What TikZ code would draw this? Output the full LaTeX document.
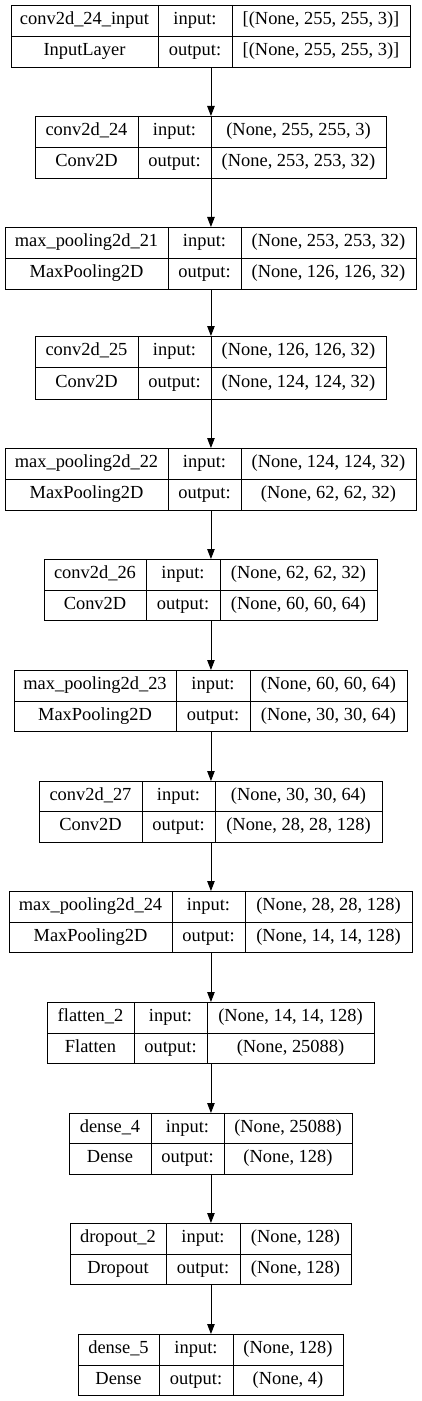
\documentclass[tikz,border=0pt]{standalone}
\usepackage{fontspec}
\setmainfont{Liberation Serif}
\usetikzlibrary{arrows.meta}
\tikzset{
  cell/.style={inner sep=0pt, font=\fontsize{18.5}{21}\selectfont},
  frame/.style={draw=black, line width=0.9bp, inner sep=0pt},
  link/.style={draw=black, line width=0.9bp, -{Triangle[length=10bp,width=7.5bp]}},
}
\newcommand\lay[8]{%
  \gdef\xA{#2}\gdef\xB{#3}\gdef\xC{#4}\gdef\xD{#5}\gdef\yT{#6}\gdef\yM{#7}\gdef\yB{#8}\gdef\lname{#1}%
  \node[frame, anchor=north west, minimum width={(#5-#2)*1bp}, minimum height={(#8-#6)*1bp}] (#1) at (#2,#6) {};
  \draw[line width=0.9bp] (#3,#6) -- (#3,#8) (#4,#6) -- (#4,#8) (#2,#7) -- (#5,#7);
}
\newcommand\laytx[4]{%
  \node[cell] (\lname-name) at ({(\xA+\xB)/2},{(\yT+\yM)/2}) {\strut #1};
  \node[cell] (\lname-type) at ({(\xA+\xB)/2},{(\yM+\yB)/2}) {\strut #2};
  \node[cell] (\lname-il) at ({(\xB+\xC)/2},{(\yT+\yM)/2}) {\strut input:};
  \node[cell] (\lname-ol) at ({(\xB+\xC)/2},{(\yM+\yB)/2}) {\strut output:};
  \node[cell] (\lname-in) at ({(\xC+\xD)/2},{(\yT+\yM)/2}) {\strut #3};
  \node[cell] (\lname-out) at ({(\xC+\xD)/2},{(\yM+\yB)/2}) {\strut #4};
}
\begin{document}
\begin{tikzpicture}[x=1bp,y=-1bp]
\useasboundingbox (0,0) rectangle (421,1401);
\lay{L1}{11}{158}{232}{410}{5}{36}{67}
\laytx{conv2d\_24\_input}{InputLayer}{[(None, 255, 255, 3)]}{[(None, 255, 255, 3)]}
\lay{L2}{35}{138}{211}{386}{116}{147}{178}
\laytx{conv2d\_24}{Conv2D}{(None, 255, 255, 3)}{(None, 253, 253, 32)}
\lay{L3}{5}{168}{241}{416}{227}{258}{289}
\laytx{max\_pooling2d\_21}{MaxPooling2D}{(None, 253, 253, 32)}{(None, 126, 126, 32)}
\lay{L4}{35}{138}{211}{386}{336}{367}{399}
\laytx{conv2d\_25}{Conv2D}{(None, 126, 126, 32)}{(None, 124, 124, 32)}
\lay{L5}{5}{168}{241}{416}{448}{479}{510}
\laytx{max\_pooling2d\_22}{MaxPooling2D}{(None, 124, 124, 32)}{(None, 62, 62, 32)}
\lay{L6}{44}{146}{220}{377}{559}{590}{620}
\laytx{conv2d\_26}{Conv2D}{(None, 62, 62, 32)}{(None, 60, 60, 64)}
\lay{L7}{14}{176}{250}{407}{670}{701}{731}
\laytx{max\_pooling2d\_23}{MaxPooling2D}{(None, 60, 60, 64)}{(None, 30, 30, 64)}
\lay{L8}{39}{142}{215}{382}{781}{811}{842}
\laytx{conv2d\_27}{Conv2D}{(None, 30, 30, 64)}{(None, 28, 28, 128)}
\lay{L9}{9}{172}{245}{412}{891}{922}{952}
\laytx{max\_pooling2d\_24}{MaxPooling2D}{(None, 28, 28, 128)}{(None, 14, 14, 128)}
\lay{L10}{47}{134}{207}{374}{1002}{1033}{1063}
\laytx{flatten\_2}{Flatten}{(None, 14, 14, 128)}{(None, 25088)}
\lay{L11}{69}{151}{224}{352}{1113}{1143}{1174}
\laytx{dense\_4}{Dense}{(None, 25088)}{(None, 128)}
\lay{L12}{70}{166}{240}{351}{1223}{1254}{1284}
\laytx{dropout\_2}{Dropout}{(None, 128)}{(None, 128)}
\lay{L13}{78}{159}{233}{343}{1334}{1365}{1395}
\laytx{dense\_5}{Dense}{(None, 128)}{(None, 4)}
\foreach \a/\b in {L1/L2,L2/L3,L3/L4,L4/L5,L5/L6,L6/L7,L7/L8,L8/L9,L9/L10,L10/L11,L11/L12,L12/L13}
  \draw[link] (\a.south) -- (\b.north);
\end{tikzpicture}
\end{document}
